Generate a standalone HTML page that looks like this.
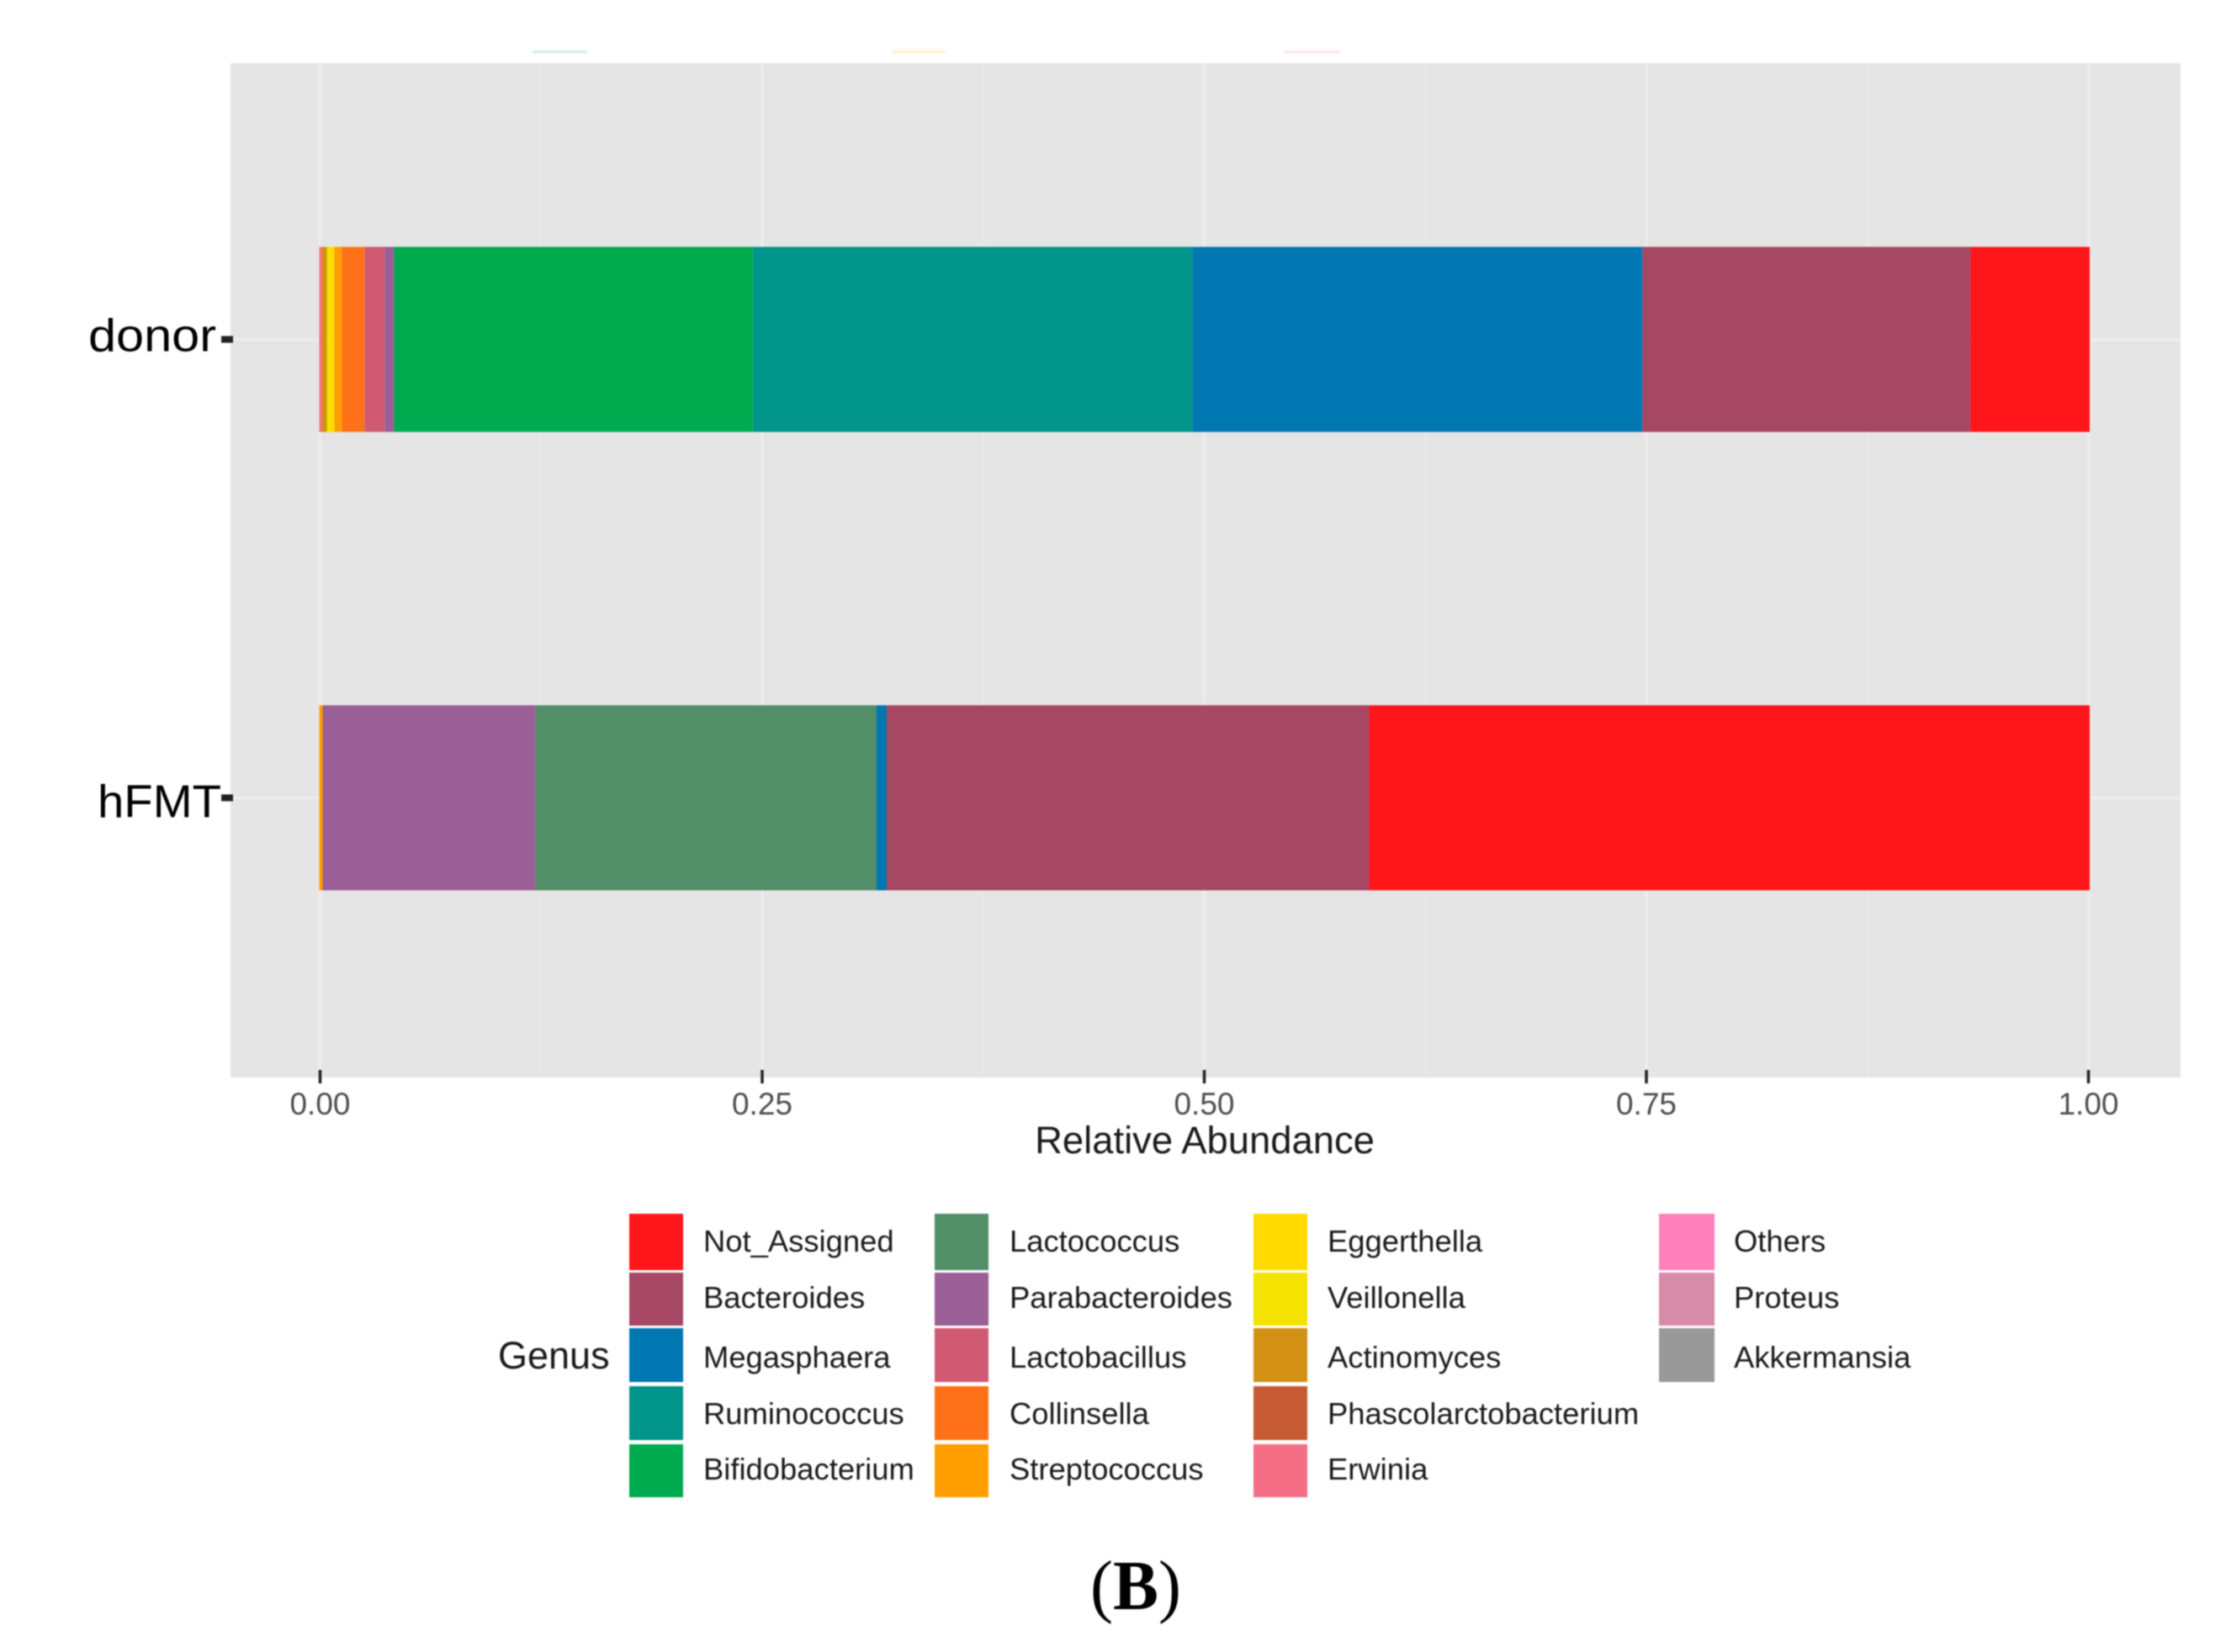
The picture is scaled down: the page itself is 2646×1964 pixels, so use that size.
<!DOCTYPE html>
<html lang="en">
<head>
<meta charset="utf-8">
<title>Relative abundance by genus</title>
<style>
html,body{margin:0;padding:0;background:#fff;}
svg{display:block;filter:blur(0.8px);}
text{font-family:"Liberation Sans",sans-serif;}
.lg{font-size:36.4px;fill:#1a1a1a;}
</style>
</head>
<body>
<svg id="chart" xmlns="http://www.w3.org/2000/svg" width="2646" height="1964" viewBox="0 0 2646 1964">
  <rect x="0" y="0" width="2646" height="1964" fill="#ffffff"/>
  <rect x="633" y="60" width="65" height="3" fill="#d3eddd"/>
  <rect x="1060" y="60" width="64" height="3" fill="#fdf3cd"/>
  <rect x="1527" y="60" width="66" height="3" fill="#fbe4ea"/>
  <rect x="274" y="75" width="2318" height="1206" fill="#e5e5e5"/>
  <g id="grid"></g>
  <g id="bars"></g>
  <g id="axes"></g>

  <text x="1432" y="1371" text-anchor="middle" font-size="45.4" fill="#1a1a1a">Relative Abundance</text>

  <g>
    <text x="592" y="1627" font-size="45" fill="#1a1a1a">Genus</text>

    <rect x="748" y="1443" width="64" height="67" fill="#ff161b"/>
    <text class="lg" x="836" y="1488">Not_Assigned</text>
    <rect x="748" y="1513" width="64" height="63" fill="#a64764"/>
    <text class="lg" x="836" y="1555">Bacteroides</text>
    <rect x="748" y="1579" width="64" height="64" fill="#0077b0"/>
    <text class="lg" x="836" y="1626">Megasphaera</text>
    <rect x="748" y="1648" width="64" height="64" fill="#00948a"/>
    <text class="lg" x="836" y="1693">Ruminococcus</text>
    <rect x="748" y="1717" width="64" height="63" fill="#00ab4f"/>
    <text class="lg" x="836" y="1759">Bifidobacterium</text>

    <rect x="1111" y="1443" width="64" height="67" fill="#528f69"/>
    <text class="lg" x="1200" y="1488">Lactococcus</text>
    <rect x="1111" y="1513" width="64" height="63" fill="#995f96"/>
    <text class="lg" x="1200" y="1555">Parabacteroides</text>
    <rect x="1111" y="1579" width="64" height="64" fill="#cf5a72"/>
    <text class="lg" x="1200" y="1626">Lactobacillus</text>
    <rect x="1111" y="1648" width="64" height="64" fill="#ff7119"/>
    <text class="lg" x="1200" y="1693">Collinsella</text>
    <rect x="1111" y="1717" width="64" height="63" fill="#ff9e00"/>
    <text class="lg" x="1200" y="1759">Streptococcus</text>

    <rect x="1490" y="1443" width="64" height="67" fill="#ffd900"/>
    <text class="lg" x="1578" y="1488">Eggerthella</text>
    <rect x="1490" y="1513" width="64" height="63" fill="#f4e300"/>
    <text class="lg" x="1578" y="1555">Veillonella</text>
    <rect x="1490" y="1579" width="64" height="64" fill="#d29014"/>
    <text class="lg" x="1578" y="1626">Actinomyces</text>
    <rect x="1490" y="1648" width="64" height="64" fill="#c65a33"/>
    <text class="lg" x="1578" y="1693">Phascolarctobacterium</text>
    <rect x="1490" y="1717" width="64" height="63" fill="#f46f86"/>
    <text class="lg" x="1578" y="1759">Erwinia</text>

    <rect x="1972" y="1443" width="66" height="67" fill="#ff80bb"/>
    <text class="lg" x="2061" y="1488">Others</text>
    <rect x="1972" y="1513" width="66" height="63" fill="#d68ba9"/>
    <text class="lg" x="2061" y="1555">Proteus</text>
    <rect x="1972" y="1579" width="66" height="64" fill="#999999"/>
    <text class="lg" x="2061" y="1626">Akkermansia</text>
  </g>

  <text x="1350" y="1913" text-anchor="middle" font-size="84" fill="#000000" textLength="108" lengthAdjust="spacingAndGlyphs" style="font-family:'Liberation Serif',serif">(<tspan font-weight="bold">B</tspan>)</text>
</svg>
<script>
const categories = ["donor", "hFMT"];
const genera = ["Not_Assigned", "Bacteroides", "Megasphaera", "Ruminococcus", "Bifidobacterium", "Lactococcus", "Parabacteroides", "Lactobacillus", "Collinsella", "Streptococcus", "Eggerthella", "Veillonella", "Actinomyces", "Phascolarctobacterium", "Erwinia", "Others", "Proteus", "Akkermansia"];
const donorValues = [0.0675, 0.1855, 0.2544, 0.2487, 0.203, 0, 0.0052, 0.0114, 0.0128, 0.0043, 0.0021, 0.0021, 0.0029, 0, 0.0014, 0, 0, 0];
const hfmtValues = [0.407, 0.2725, 0.0057, 0, 0, 0.1925, 0.1204, 0, 0, 0.0019, 0, 0, 0, 0, 0, 0, 0, 0];
const xTickValues = [0, 0.25, 0.5, 0.75, 1];
const xTickLabels = ["0.00", "0.25", "0.50", "0.75", "1.00"];
const genusColors = ["#ff161b", "#a64764", "#0077b0", "#00948a", "#00ab4f", "#528f69", "#995f96", "#cf5a72", "#ff7119", "#ff9e00", "#ffd900", "#f4e300", "#d29014", "#c65a33", "#f46f86", "#ff80bb", "#d68ba9", "#999999"];

const NS = "http://www.w3.org/2000/svg";
function xScale(v) { return 380.5 + 2102 * v; }
function barScale(v) { return 379.5 + 2104.5 * v; }
function yScale(i) { return 403.5 + 545 * i; }
function slug(s) { return s.toLowerCase().replace(/_/g, "-"); }

const gridLayer = document.getElementById("grid");
const barLayer = document.getElementById("bars");
const axisLayer = document.getElementById("axes");

function makeRect(x, y, w, h, fill) {
  const r = document.createElementNS(NS, "rect");
  r.setAttribute("x", x);
  r.setAttribute("y", y);
  r.setAttribute("width", w);
  r.setAttribute("height", h);
  r.setAttribute("fill", fill);
  return r;
}

/* minor vertical gridlines, midway between major ticks */
for (let i = 0; i < xTickValues.length - 1; i++) {
  const mid = (xTickValues[i] + xTickValues[i + 1]) / 2;
  const minor = makeRect(xScale(mid) - 1, 75, 2, 1206, "#e9e9e9");
  
  
  gridLayer.appendChild(minor);
}
/* major vertical gridlines */
xTickValues.forEach(function (v) {
  const major = makeRect(xScale(v) - 2, 75, 4, 1206, "#ececec");
  
  
  gridLayer.appendChild(major);
});
/* horizontal gridlines */
categories.forEach(function (c, i) {
  const h = makeRect(274, yScale(i) - 2, 2318, 4, "#ececec");
  
  
  gridLayer.appendChild(h);
});

/* stacked bars: first genus sits at the right-hand end, as in a fill-position stack */
const seriesByCategory = [donorValues, hfmtValues];
seriesByCategory.forEach(function (values, c) {
  let total = 0;
  values.forEach(function (v) { total += v; });
  let cumulative = total;
  values.forEach(function (v, g) {
    const right = barScale(cumulative / total);
    cumulative -= v;
    const left = barScale(cumulative / total);
    if (v <= 0) return;
    const seg = makeRect(left, yScale(c) - 110, right - left, 220, genusColors[g]);
    
    
    barLayer.appendChild(seg);
  });
});

/* x axis ticks and labels */
xTickValues.forEach(function (v, i) {
  const tick = makeRect(xScale(v) - 1.75, 1272, 3.5, 16, "#222222");
  
  
  axisLayer.appendChild(tick);
  const label = document.createElementNS(NS, "text");
  label.setAttribute("x", xScale(v));
  label.setAttribute("y", 1325);
  label.setAttribute("text-anchor", "middle");
  label.setAttribute("font-size", "37");
  label.setAttribute("fill", "#4d4d4d");
  label.textContent = xTickLabels[i];
  
  
  axisLayer.appendChild(label);
});

/* y axis ticks and labels */
const yLabelWidths = { donor: 152, hFMT: 147 };
categories.forEach(function (c, i) {
  const tick = makeRect(263, yScale(i) - 4, 14, 8, "#222222");
  
  
  axisLayer.appendChild(tick);
  const label = document.createElementNS(NS, "text");
  label.setAttribute("x", i === 0 ? 257 : 263);
  label.setAttribute("y", yScale(i) + (i === 0 ? 14 : 23));
  label.setAttribute("text-anchor", "end");
  label.setAttribute("font-size", "55");
  label.setAttribute("fill", "#000000");
  label.setAttribute("textLength", yLabelWidths[c]);
  label.setAttribute("lengthAdjust", "spacingAndGlyphs");
  label.textContent = c;
  
  
  axisLayer.appendChild(label);
});
</script>
</body>
</html>
